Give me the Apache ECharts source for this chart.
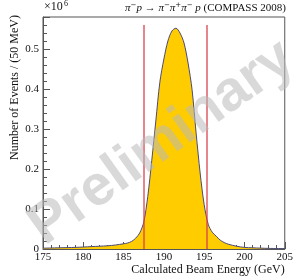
<!DOCTYPE html>
<html><head><meta charset="utf-8">
<script src="https://cdn.jsdelivr.net/npm/echarts@6/dist/echarts.min.js"></script>
<style>html,body{margin:0;padding:0;background:#fff}#c{width:296px;height:277px}</style>
</head><body><div id="c"></div>
<script>
// Beam energy (GeV) and events per 50 MeV (units of 10^6)
const energy = [175,177,179,181,183,184,185,185.5,186,186.5,187,187.5,188,188.5,189,189.5,190,190.5,191,191.5,192,192.5,193,193.5,194,194.5,195,195.5,196,196.5,197,197.5,198,199,200,201,203,205];
const events = [0.002,0.003,0.004,0.006,0.008,0.010,0.013,0.015,0.019,0.027,0.040,0.067,0.131,0.222,0.320,0.417,0.475,0.520,0.545,0.552,0.540,0.515,0.465,0.398,0.290,0.190,0.111,0.062,0.042,0.032,0.022,0.016,0.012,0.007,0.004,0.003,0.0015,0.001];
const cutLines = [187.5, 195.3];
const cutTop = 0.56;
const xTicks = [175,180,185,190,195,200,205];
const yTicks = [0,0.1,0.2,0.3,0.4,0.5];

const chart = echarts.init(document.getElementById('c'), null, {renderer:'canvas'});
const serif = 'Liberation Serif';
const axisCol = '#555';
chart.setOption({
  animation:false,
  grid:{left:43,right:10,top:17,bottom:28,show:true,borderColor:axisCol,borderWidth:1,backgroundColor:'transparent'},
  xAxis:{type:'value',min:175,max:205,interval:5,
    axisLine:{show:true,onZero:false,lineStyle:{color:axisCol}},
    axisTick:{show:true,inside:true,length:7,lineStyle:{color:axisCol}},
    minorTick:{show:true,splitNumber:5,length:4,lineStyle:{color:axisCol}},
    axisLabel:{color:'#111',fontFamily:serif,fontSize:11,margin:3,
      formatter:v=>xTicks.includes(v)?String(v):''},
    splitLine:{show:false},
    name:'Calculated Beam Energy (GeV)',nameLocation:'end',nameGap:0,
    nameTextStyle:{fontFamily:serif,fontSize:12,color:'#111',align:'right',verticalAlign:'top',padding:[15,0,0,0]}
  },
  yAxis:{type:'value',min:0,max:0.58,interval:0.1,
    axisLine:{show:true,lineStyle:{color:axisCol}},
    axisTick:{show:true,inside:true,length:7,lineStyle:{color:axisCol}},
    minorTick:{show:true,splitNumber:5,length:4,lineStyle:{color:axisCol}},
    axisLabel:{color:'#111',fontFamily:serif,fontSize:11,margin:4,
      formatter:v=>{const t=yTicks.find(k=>Math.abs(k-v)<1e-9);return t===undefined?'':(t===0?'0':String(t));}},
    splitLine:{show:false}
  },
  graphic:[
    {type:'text',left:44,top:1,style:{text:'×10',font:'12px "Liberation Serif"',fill:'#111'}},
    {type:'text',left:64,top:0,style:{text:'6',font:'8px "Liberation Serif"',fill:'#111'}},
    {type:'text',right:10,top:2,style:{
      rich:{i:{fontFamily:serif,fontStyle:'italic',fontSize:11,fill:'#111'},
            s:{fontFamily:'DejaVu Sans',fontSize:7,fill:'#111',verticalAlign:'top',padding:[0,0,5,0]},
            n:{fontFamily:serif,fontSize:11,fill:'#111'}},
      text:'{i|π}{s|−}{i|p}{n| → }{i|π}{s|−}{i|π}{s|+}{i|π}{s|−}{n| }{i|p}{n| (COMPASS 2008)}',
      font:'11px "Liberation Serif"',fill:'#111'}},
    {type:'text',x:9,y:15,rotation:Math.PI/2,style:{text:'Number of Events / (50 MeV)',font:'12px "Liberation Serif"',fill:'#111',align:'right',verticalAlign:'top'}},
    {type:'text',x:162,y:143,rotation:0.62,z:100,silent:true,style:{text:'Preliminary',font:'bold 57px "Liberation Sans"',fill:'rgba(185,185,185,0.55)',align:'center',verticalAlign:'middle'}}
  ],
  series:[{
    type:'line',
    data:energy.map((e,i)=>[e,events[i]]),
    smooth:0.3,showSymbol:false,
    lineStyle:{color:'#4a4a7a',width:1},
    areaStyle:{color:'#ffcc00',opacity:1},
    markLine:{silent:true,symbol:'none',label:{show:false},
      lineStyle:{color:'#d9404c',width:1.5,type:'solid',opacity:0.85},
      data:cutLines.map(x=>[{coord:[x,0]},{coord:[x,cutTop]}])}
  }]
});
</script></body></html>
